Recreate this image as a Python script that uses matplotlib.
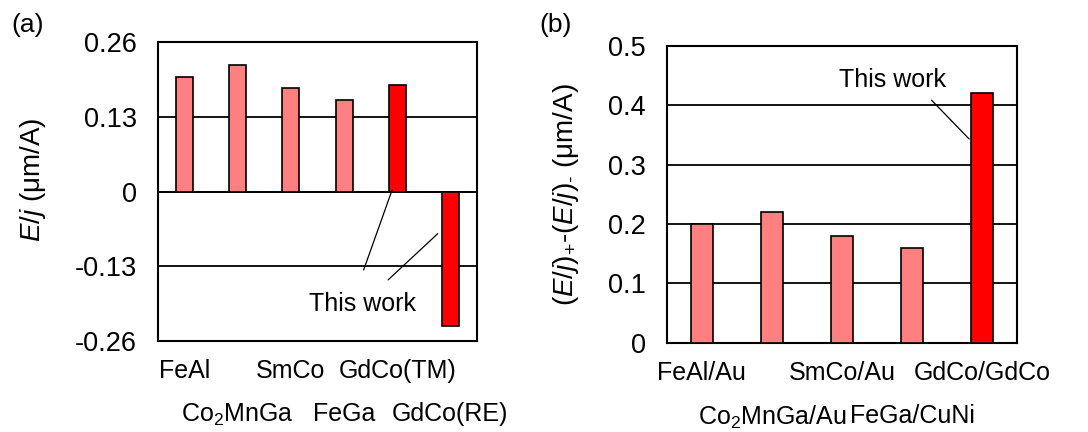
import matplotlib
matplotlib.use("Agg")
import matplotlib.pyplot as plt
from matplotlib.transforms import ScaledTranslation

plt.rcParams['font.family'] = ['Liberation Sans', 'DejaVu Sans']
plt.rcParams['mathtext.fontset'] = 'custom'
plt.rcParams['mathtext.rm'] = 'Liberation Sans'
plt.rcParams['mathtext.it'] = 'Liberation Sans:italic'
plt.rcParams['font.size'] = 18

# data
labels_a = ['FeAl', r'Co$_2$MnGa', 'SmCo', 'FeGa', 'GdCo(TM)', 'GdCo(RE)']
values_a = [0.20, 0.22, 0.18, 0.16, 0.185, -0.234]
colors_a = ['#FF8080', '#FF8080', '#FF8080', '#FF8080', '#FF0000', '#FF0000']
yticks_a = [-0.26, -0.13, 0, 0.13, 0.26]
yticklabels_a = ['-0.26', '-0.13', '0', '0.13', '0.26']

labels_b = ['FeAl/Au', r'Co$_2$MnGa/Au', 'SmCo/Au', 'FeGa/CuNi', 'GdCo/GdCo']
values_b = [0.20, 0.22, 0.18, 0.16, 0.42]
colors_b = ['#FF8080', '#FF8080', '#FF8080', '#FF8080', '#FF0000']
yticks_b = [0, 0.1, 0.2, 0.3, 0.4, 0.5]
yticklabels_b = ['0', '0.1', '0.2', '0.3', '0.4', '0.5']

W, H = 1088, 432
fig = plt.figure(figsize=(W / 100, H / 100), dpi=100)
ax1 = fig.add_axes([158 / W, 1 - 341 / H, 319 / W, 299 / H])
ax2 = fig.add_axes([666.7 / W, 1 - 342.7 / H, 350.6 / W, 296.7 / H])


def style(ax, labels, values, colors, yticks, yticklabels, ylim):
    x = range(len(labels))
    ax.set_axisbelow(True)
    ax.yaxis.grid(True, color='black', linewidth=1.3)
    ax.bar(x, values, width=0.32, color=colors, edgecolor='black', linewidth=1.2, zorder=3)
    ax.set_xlim(-0.5, len(labels) - 0.5)
    ax.set_ylim(*ylim)
    ax.set_yticks(yticks)
    ax.set_yticklabels(yticklabels, fontsize=19.5)
    ax.set_xticks(list(x))
    ax.set_xticklabels(labels)
    ax.tick_params(length=0)
    ax.tick_params(axis='y', pad=15)
    ax.tick_params(axis='x', pad=13)
    for s in ax.spines.values():
        s.set_linewidth(1.5)
    # second row of labels for odd ones
    for i, lbl in enumerate(ax.get_xticklabels()):
        if i % 2 == 1:
            lbl.set_transform(lbl.get_transform() + ScaledTranslation(0, -0.43, fig.dpi_scale_trans))


style(ax1, labels_a, values_a, colors_a, yticks_a, yticklabels_a, (-0.26, 0.26))
ax1.axhline(0, color='black', linewidth=1.3, zorder=2)
ax1.set_ylabel(r'$\mathit{E/j}$ (μm/A)', fontsize=20)
ax1.yaxis.set_label_coords(-0.345, 0.54)
ax1.text(3.35, -0.195, 'This work', ha='center', va='center')
ax1.annotate('', xy=(3.92, 0.007), xytext=(3.35, -0.141),
             arrowprops=dict(arrowstyle='-', color='black', lw=0.9))
ax1.annotate('', xy=(4.80, -0.070), xytext=(3.79, -0.157),
             arrowprops=dict(arrowstyle='-', color='black', lw=0.9))

style(ax2, labels_b, values_b, colors_b, yticks_b, yticklabels_b, (0, 0.5))
ax2.set_ylabel(r'$(\mathit{E/j})_{+}$-$(\mathit{E/j})_{\text{-}}$ (μm/A)', fontsize=20)
ax2.yaxis.set_label_coords(-0.245, 0.50)
ax2.text(2.72, 0.443, 'This work', ha='center', va='center')
ax2.annotate('', xy=(3.84, 0.340), xytext=(3.25, 0.412),
             arrowprops=dict(arrowstyle='-', color='black', lw=0.9))

fig.text(28 / W, 1 - 25 / H, '(a)', ha='center', va='center', fontsize=19)
fig.text(556 / W, 1 - 25 / H, '(b)', ha='center', va='center', fontsize=19)

fig.savefig('out.png', dpi=100)
